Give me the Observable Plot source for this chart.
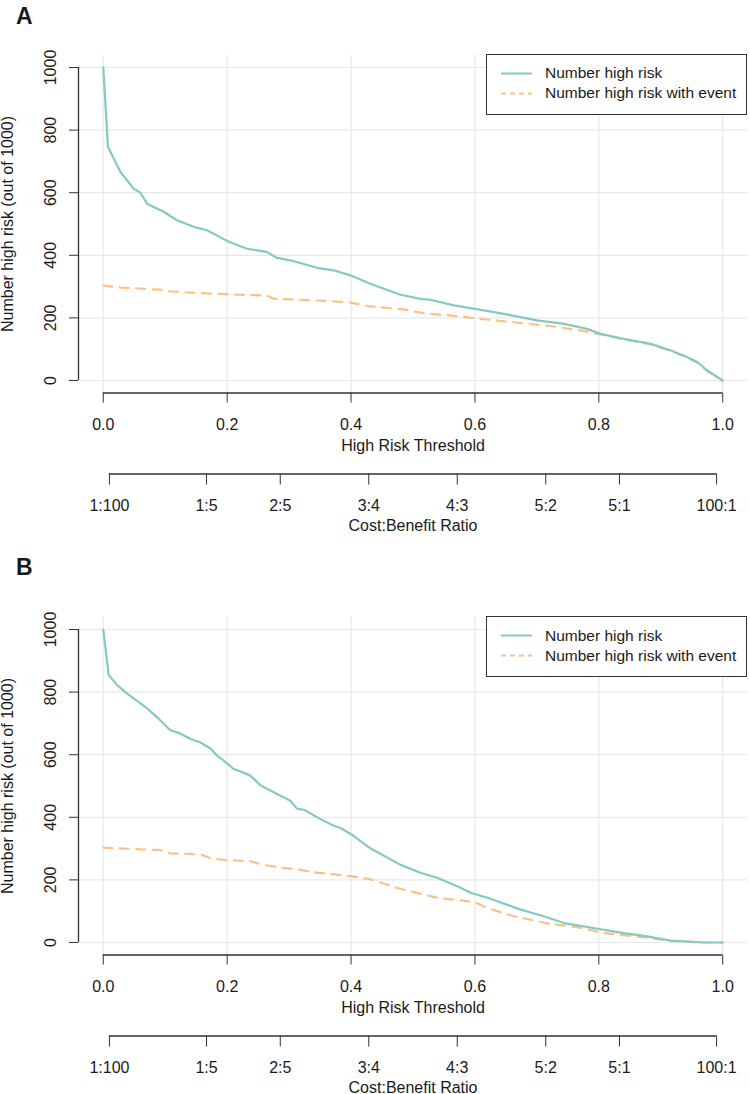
<!DOCTYPE html>
<html>
<head>
<meta charset="utf-8">
<script src="https://cdn.jsdelivr.net/npm/d3@7"></script>
<script src="https://cdn.jsdelivr.net/npm/@observablehq/plot@0.6"></script>
<style>
  html, body { margin: 0; padding: 0; background: #fff; }
  #wrap { position: relative; width: 750px; height: 1094px; font-family: "Liberation Sans", Arial, sans-serif; color: #1a1a1a; }
  .panel { position: absolute; left: 0; }
  .plabel { position: absolute; left: 16px; font-weight: bold; font-size: 23px; line-height: 1; }
  .legend { position: absolute; left: 486px; width: 259px; height: 59px; border: 1.5px solid #333; background: #fff; }
  .legend svg { position: absolute; left: 0; top: 0; }
  .legend .lt { position: absolute; left: 58px; font-size: 15.5px; white-space: nowrap; line-height: 1; }
</style>
</head>
<body>
<div id="wrap"></div>
<script>
// ---- data ----
const xTicks = [0, 0.2, 0.4, 0.6, 0.8, 1.0];
const yTicks = [0, 200, 400, 600, 800, 1000];
const cbLabels = ["1:100", "1:5", "2:5", "3:4", "4:3", "5:2", "5:1", "100:1"];
const seriesNames = ["Number high risk", "Number high risk with event"];

// Panel A
const thrA = [0, 0.0076, 0.0275, 0.049, 0.06, 0.0706, 0.0974, 0.119, 0.146, 0.1675, 0.1998, 0.232, 0.264, 0.28, 0.302, 0.345, 0.372, 0.399, 0.431, 0.4475, 0.48, 0.512, 0.528, 0.566, 0.6, 0.647, 0.7, 0.744, 0.781, 0.803, 0.84, 0.884, 0.916, 0.937, 0.959, 0.975, 1.0];
const highRiskA = [1000, 746, 667, 613, 600, 565, 539, 512, 491, 480, 446, 421, 411, 392, 384, 360, 352, 336, 309, 297, 274, 261, 258, 240, 229, 213, 192, 181, 165, 149, 133, 117, 96, 80, 59, 32, 0];
const thrEventA = [0, 0.0275, 0.092, 0.108, 0.157, 0.21, 0.264, 0.275, 0.318, 0.372, 0.399, 0.426, 0.485, 0.517, 0.56, 0.6, 0.657, 0.722, 0.77, 0.803, 0.84, 0.884, 0.916, 0.937, 0.959, 0.975, 1.0];
const eventA = [303, 297, 290, 285, 279, 275, 271, 261, 258, 253, 249, 238, 227, 215, 208, 199, 187, 174, 160, 147, 131, 115, 94, 78, 57, 30, 0];

// Panel B
const thrB = [0, 0.0086, 0.022, 0.038, 0.06, 0.0706, 0.089, 0.108, 0.124, 0.141, 0.157, 0.173, 0.184, 0.194, 0.21, 0.237, 0.254, 0.275, 0.302, 0.313, 0.324, 0.35, 0.372, 0.383, 0.404, 0.431, 0.48, 0.512, 0.539, 0.574, 0.593, 0.62, 0.674, 0.711, 0.744, 0.798, 0.84, 0.873, 0.916, 0.97, 1.0];
const highRiskB = [1000, 855, 823, 796, 764, 748, 716, 678, 668, 650, 639, 620, 597, 582, 555, 534, 502, 480, 453, 427, 424, 395, 373, 366, 341, 301, 248, 223, 207, 177, 159, 143, 105, 84, 62, 44, 30, 21, 6, 0, 0];
const thrEventB = [0, 0.092, 0.108, 0.157, 0.173, 0.2, 0.237, 0.254, 0.28, 0.318, 0.345, 0.399, 0.431, 0.48, 0.539, 0.6, 0.62, 0.663, 0.722, 0.766, 0.808, 0.862, 0.916, 0.97, 1.0];
const eventB = [303, 295, 285, 282, 269, 263, 260, 250, 241, 232, 223, 212, 202, 171, 143, 129, 110, 84, 59, 49, 30, 19, 5, 0, 0];

// ---- styling ----
const TEAL = "#84c9c3";
const ORANGE = "#fdc086";
const GRID = "#e8e8e8";
const AXIS = "#333";
const FONT = "'Liberation Sans', Arial, sans-serif";

// cost:benefit tick positions from the labels (c/(c+b))
const cbT = cbLabels.map(s => { const [c, b] = s.split(":").map(Number); return c / (c + b); });
const cbMap = new Map(cbT.map((t, i) => [t, cbLabels[i]]));

const xDom = [-0.04, 1.04], yDom = [-40, 1040];
const MT = 54.5, MB_FRAME = 392.5;

function panel(thr, hr, thrE, ev, height) {
  const d1 = thr.map((t, i) => ({t, v: hr[i]}));
  const d2 = thrE.map((t, i) => ({t, v: ev[i]}));
  return Plot.plot({
    width: 750,
    height,
    marginTop: MT,
    marginBottom: height - MB_FRAME,
    marginLeft: 78,
    marginRight: 3,
    x: {domain: xDom, label: null},
    y: {domain: yDom, label: null},
    style: {fontFamily: FONT, fontSize: "16px", color: "#1a1a1a", background: "white", overflow: "visible"},
    marks: [
      Plot.gridX({ticks: xTicks, stroke: GRID, strokeOpacity: 1, strokeWidth: 1.2}),
      Plot.gridY({ticks: yTicks, stroke: GRID, strokeOpacity: 1, strokeWidth: 1.2}),
      Plot.line(d2, {x: "t", y: "v", stroke: ORANGE, strokeWidth: 2.2, strokeDasharray: "9,7.5"}),
      Plot.line(d1, {x: "t", y: "v", stroke: TEAL, strokeWidth: 2.2}),
      // y axis
      Plot.ruleX([xDom[0]], {y1: yTicks[0], y2: yTicks[yTicks.length - 1], stroke: AXIS, strokeWidth: 1.3}),
      Plot.axisY({ticks: yTicks, tickSize: 9, tickRotate: -90, tickPadding: 14, stroke: AXIS, label: null, tickFormat: d => String(d)}),
      Plot.text(["Number high risk (out of 1000)"], {frameAnchor: "left", rotate: -90, dx: -65.4, textAnchor: "middle", lineAnchor: "bottom", fontSize: 16}),
      // x axis: threshold
      Plot.ruleY([yDom[0]], {x1: xTicks[0], x2: xTicks[xTicks.length - 1], stroke: AXIS, strokeWidth: 1.3}),
      Plot.axisX({ticks: xTicks, tickSize: 10, tickPadding: 15.5, stroke: AXIS, label: null, tickFormat: d => d.toFixed(1)}),
      Plot.text(["High Risk Threshold"], {frameAnchor: "bottom", lineAnchor: "bottom", dy: 57.5, fontSize: 16}),
      // x axis: cost:benefit ratio
      Plot.ruleY([yDom[0]], {x1: cbT[0], x2: cbT[cbT.length - 1], dy: 81, stroke: AXIS, strokeWidth: 1.3}),
      Plot.axisX({ticks: cbT, tickSize: 11, tickPadding: 15, dy: 81, stroke: AXIS, label: null, tickFormat: d => cbMap.get(d)}),
      Plot.text(["Cost:Benefit Ratio"], {frameAnchor: "bottom", lineAnchor: "bottom", dy: 137.5, fontSize: 16})
    ]
  });
}

function legendBox(top) {
  const el = document.createElement("div");
  el.className = "legend";
  el.style.top = top + "px";
  const ns = "http://www.w3.org/2000/svg";
  const svg = document.createElementNS(ns, "svg");
  svg.setAttribute("width", 259); svg.setAttribute("height", 59);
  const mk = (y, color, dash) => {
    const l = document.createElementNS(ns, "line");
    l.setAttribute("x1", 14); l.setAttribute("x2", 45);
    l.setAttribute("y1", y); l.setAttribute("y2", y);
    l.setAttribute("stroke", color); l.setAttribute("stroke-width", 2);
    if (dash) l.setAttribute("stroke-dasharray", dash);
    svg.appendChild(l);
  };
  mk(18.5, TEAL, null);
  mk(38.5, ORANGE, "5,4");
  el.appendChild(svg);
  seriesNames.forEach((name, i) => {
    const t = document.createElement("div");
    t.className = "lt";
    t.style.top = (10.5 + 20 * i) + "px";
    t.textContent = name;
    el.appendChild(t);
  });
  return el;
}

const wrap = document.getElementById("wrap");
const OFF_B = 562;
const pa = document.createElement("div"); pa.className = "panel"; pa.style.top = "0px";
pa.appendChild(panel(thrA, highRiskA, thrEventA, eventA, OFF_B));
const pb = document.createElement("div"); pb.className = "panel"; pb.style.top = OFF_B + "px";
pb.appendChild(panel(thrB, highRiskB, thrEventB, eventB, 1094 - OFF_B));
wrap.appendChild(pa); wrap.appendChild(pb);

wrap.appendChild(legendBox(53.5));
wrap.appendChild(legendBox(53.5 + OFF_B + 0.5));

[["A", 5], ["B", 556]].forEach(([s, top]) => {
  const l = document.createElement("div");
  l.className = "plabel"; l.style.top = top + "px"; l.textContent = s;
  wrap.appendChild(l);
});
</script>
</body>
</html>
